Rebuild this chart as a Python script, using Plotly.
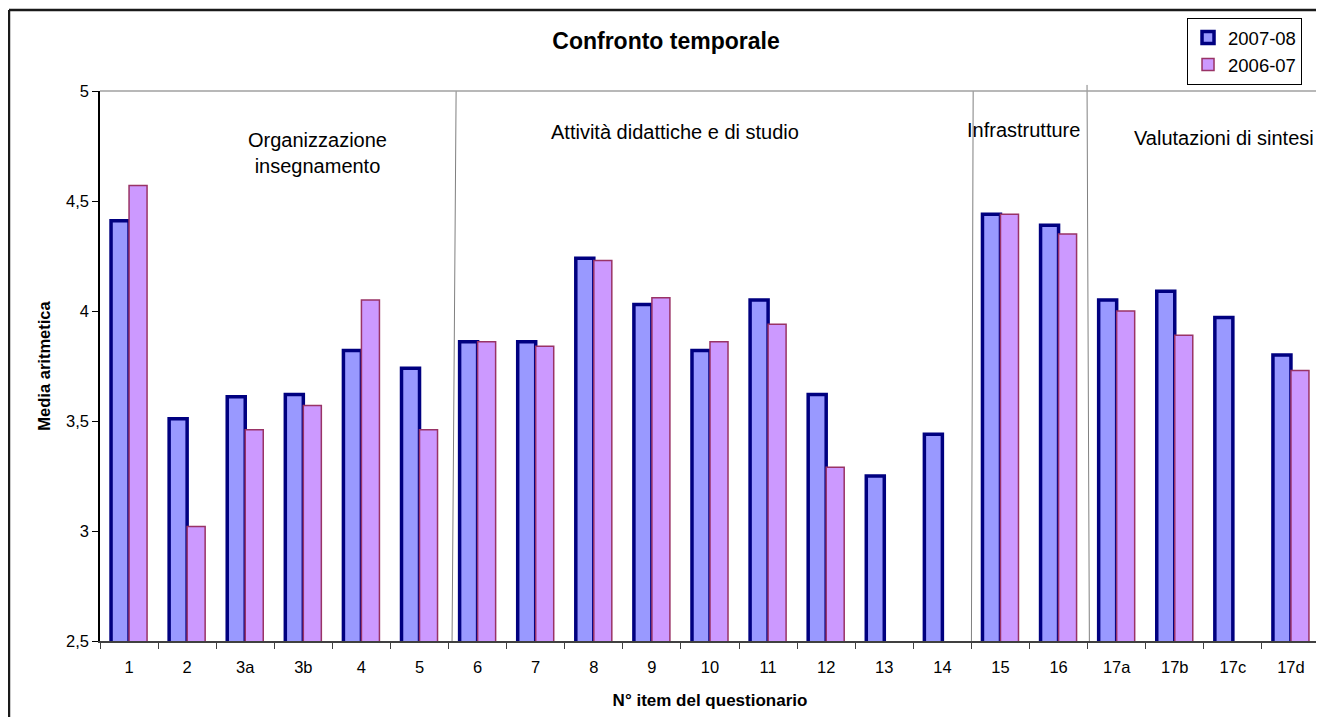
import plotly.graph_objects as go

items = ["1", "2", "3a", "3b", "4", "5", "6", "7", "8", "9", "10", "11",
         "12", "13", "14", "15", "16", "17a", "17b", "17c", "17d"]
media_2007_08 = [4.41, 3.51, 3.61, 3.62, 3.82, 3.74, 3.86, 3.86, 4.24, 4.03, 3.82,
                 4.05, 3.62, 3.25, 3.44, 4.44, 4.39, 4.05, 4.09, 3.97, 3.80]
media_2006_07 = [4.57, 3.02, 3.46, 3.57, 4.05, 3.46, 3.86, 3.84, 4.23, 4.06, 3.86,
                 3.94, 3.29, None, None, 4.44, 4.35, 4.00, 3.89, None, 3.73]

# group label, x (category index), y (value)
gruppi = [("Organizzazione<br>insegnamento", 3.25, 4.72),
          ("Attività didattiche e di studio", 9.40, 4.815),
          ("Infrastrutture", 15.40, 4.823),
          ("Valutazioni di sintesi", 18.85, 4.786)]

font = "Arial, Liberation Sans, sans-serif"

fig = go.Figure()
fig.add_trace(go.Bar(x=items, y=media_2007_08, name="2007-08", legendgroup="a",
                     marker=dict(color="#9999FF", line=dict(color="#000080", width=3.5))))
fig.add_trace(go.Bar(x=items, y=media_2006_07, name="2006-07", legendgroup="b",
                     marker=dict(color="#CC99FF", line=dict(color="#993366", width=1.5))))

# separators between groups
for x0, x1, ytop in [(5.63, 5.56, 1.0), (14.53, 14.50, 1.0), (16.49, 16.53, 1.011)]:
    fig.add_shape(type="line", xref="x", yref="paper", x0=x0, x1=x1, y0=ytop, y1=0,
                  line=dict(color="#808080", width=1))

for testo, gx, gy in gruppi:
    fig.add_annotation(x=gx, y=gy, xref="x", yref="y", text=testo, showarrow=False,
                       font=dict(family=font, size=20, color="black"))

# plot area top/right border
fig.add_shape(type="line", xref="paper", yref="paper", x0=0, x1=1, y0=1, y1=1,
              line=dict(color="#A0A0A0", width=1.5))
fig.add_shape(type="line", xref="paper", yref="paper", x0=1, x1=1, y0=0, y1=1,
              line=dict(color="#A0A0A0", width=1.5))
# chart outer border (left and top visible)
fig.add_shape(type="line", xref="paper", yref="paper", x0=-0.0746, x1=-0.0746, y0=-0.2, y1=1.1473,
              line=dict(color="#1a1a1a", width=2.5))
fig.add_shape(type="line", xref="paper", yref="paper", x0=-0.0746, x1=1.05, y0=1.1473, y1=1.1473,
              line=dict(color="#1a1a1a", width=2.5))

fig.update_layout(
    width=1316, height=709,
    margin=dict(l=92, r=4, t=83, b=76),
    plot_bgcolor="white", paper_bgcolor="white",
    separators=",.",
    barmode="group", bargap=0.38, bargroupgap=0,
    font=dict(family=font, size=16, color="black"),
    title=dict(text="<b>Confronto temporale</b>", x=0.5, xanchor="center",
               y=0.953, yanchor="middle", font=dict(size=23)),
    legend=dict(x=0.891, y=1.1327, xanchor="left", yanchor="top",
                bordercolor="black", borderwidth=1, bgcolor="white",
                font=dict(size=18.5), tracegroupgap=2, traceorder="normal"),
    xaxis=dict(type="category", showline=True, linecolor="#404040", linewidth=1.5,
               ticks="outside", tickson="boundaries", ticklen=6, tickcolor="#404040",
               showgrid=False, ticklabelstandoff=10, tickfont=dict(size=16.5),
               title=dict(text="<b>N° item del questionario</b>", standoff=20,
                          font=dict(size=17))),
    yaxis=dict(range=[2.5, 5], dtick=0.5, showline=True, linecolor="black", linewidth=1.5,
               ticks="outside", ticklen=6, tickcolor="black", showgrid=False,
               tickfont=dict(size=16.5),
               title=dict(text="<b>Media aritmetica</b>", standoff=11, font=dict(size=16.5))),
)

fig.write_html("out.html")
